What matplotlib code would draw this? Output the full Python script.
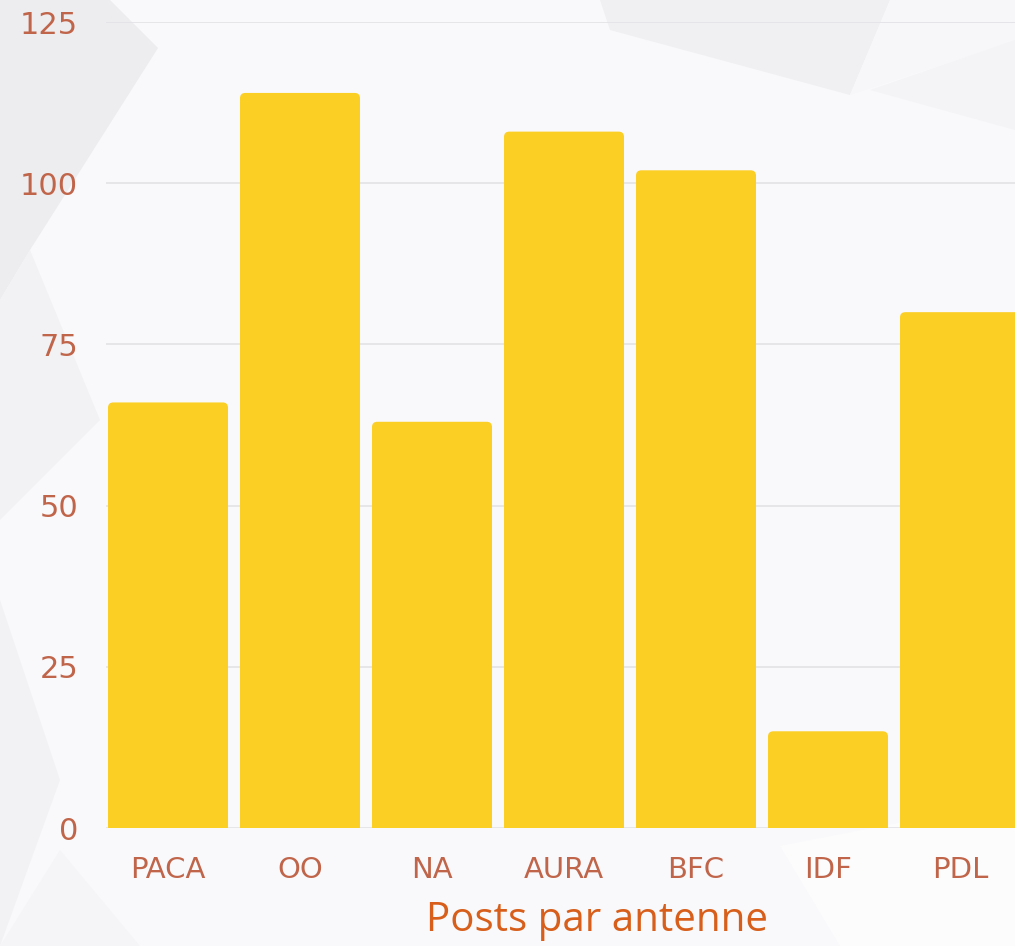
import numpy as np
import matplotlib
matplotlib.use("Agg")
import matplotlib.pyplot as plt
from matplotlib.patches import FancyBboxPatch, Polygon

antennes = ["PACA", "OO", "NA", "AURA", "BFC", "IDF", "PDL"]
posts = [66, 114, 63, 108, 102, 15, 80]
yticks = [0, 25, 50, 75, 100, 125]

W, H = 1015, 946
fig = plt.figure(figsize=(W / 100, H / 100), dpi=100)
fig.patch.set_facecolor("#f9f9fb")

# faint low-poly background shapes (pixel coords, y from top)
shapes = [
    ([(0, 0), (110, 0), (158, 48), (30, 250), (0, 300)], "#ededf0"),
    ([(0, 300), (30, 250), (100, 420), (0, 520)], "#f2f2f5"),
    ([(600, 0), (890, 0), (850, 95), (610, 30)], "#f0f0f3"),
    ([(850, 95), (890, 0), (1015, 0), (1015, 40)], "#f7f7f9"),
    ([(870, 90), (1015, 40), (1015, 130)], "#f4f4f7"),
    ([(0, 600), (60, 780), (0, 946)], "#f2f2f5"),
    ([(60, 850), (140, 946), (0, 946)], "#f5f5f7"),
    ([(780, 846), (1015, 800), (1015, 946), (840, 946)], "#fcfcfd"),
]
for pts, c in shapes:
    fig.patches.append(Polygon([(x / W, 1 - y / H) for x, y in pts],
                               closed=True, transform=fig.transFigure,
                               facecolor=c, edgecolor="none", zorder=-10))

# axes placement: category spacing 132 px, first center at 168 px
x_left_px, x_right_px = 106, 1015
y_bot_px, y_top_px = 828, 22
ax = fig.add_axes([x_left_px / W, 1 - y_bot_px / H,
                   (x_right_px - x_left_px) / W, (y_bot_px - y_top_px) / H])
ax.set_facecolor("none")
ax.set_xlim((x_left_px - 168) / 132, (x_right_px - 168) / 132)
ax.set_ylim(0, 125)

x = np.arange(len(antennes))
width = 120 / 132
aspect = (125 / (y_bot_px - y_top_px)) / (1 / 132)
for xi, v in zip(x, posts):
    bar = FancyBboxPatch((xi - width / 2, -3), width, v + 3,
                         boxstyle="round,pad=0,rounding_size=0.04",
                         mutation_aspect=aspect,
                         facecolor="#fccf25", edgecolor="none", zorder=3)
    ax.add_patch(bar)

ax.set_yticks(yticks)
ax.yaxis.grid(True, color="#e4e4e8", linewidth=1.3, zorder=0)
ax.set_axisbelow(True)
for s in ax.spines.values():
    s.set_visible(False)
ax.tick_params(length=0)
ax.tick_params(axis="y", pad=20, labelsize=22, labelcolor="#c0654a")
ax.tick_params(axis="x", pad=20, labelsize=21, labelcolor="#c0654a")
ax.set_xticks(x)
ax.set_xticklabels(antennes)

fig.text(597 / W, 1 - 921 / H, "Posts par antenne", ha="center", va="center",
         fontsize=29, color="#d75f1b", family="Open Sans")

fig.savefig("out.png", dpi=100)
